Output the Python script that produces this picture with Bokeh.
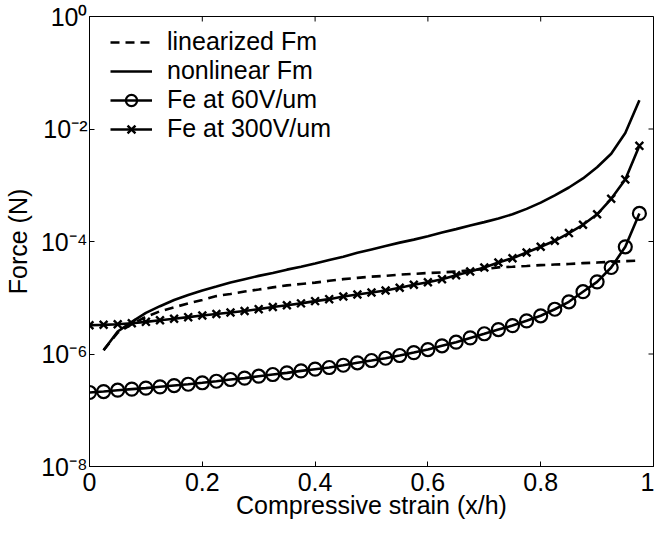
import math
from bokeh.plotting import figure
from bokeh.models import (FixedTicker, CustomJSTickFormatter, Legend, LegendItem, Range1d)
from bokeh.embed import file_html
from bokeh.resources import INLINE

# ---- data ----
strain = [0.0, 0.025, 0.05, 0.075, 0.1, 0.125, 0.15, 0.175, 0.2, 0.225,
          0.25, 0.275, 0.3, 0.325, 0.35, 0.375, 0.4, 0.425, 0.45, 0.475,
          0.5, 0.525, 0.55, 0.575, 0.6, 0.625, 0.65, 0.675, 0.7, 0.725,
          0.75, 0.775, 0.8, 0.825, 0.85, 0.875, 0.9, 0.925, 0.95, 0.975]

fm_strain = [0.025, 0.05, 0.075, 0.1, 0.125, 0.15, 0.175, 0.2, 0.225,
             0.25, 0.275, 0.3, 0.325, 0.35, 0.375, 0.4, 0.425, 0.45, 0.475,
             0.5, 0.525, 0.55, 0.575, 0.6, 0.625, 0.65, 0.675, 0.7, 0.725,
             0.75, 0.775, 0.8, 0.825, 0.85, 0.875, 0.9, 0.925, 0.95, 0.975]

fm_linearized = [1.17e-6, 2.40e-6, 3.39e-6, 4.57e-6, 5.75e-6, 6.76e-6, 7.94e-6, 9.12e-6,
                 1.07e-5, 1.17e-5, 1.29e-5, 1.40e-5, 1.53e-5, 1.66e-5, 1.76e-5, 1.86e-5,
                 2.00e-5, 2.14e-5, 2.26e-5, 2.37e-5, 2.45e-5, 2.57e-5, 2.66e-5, 2.75e-5,
                 2.82e-5, 2.92e-5, 3.09e-5, 3.24e-5, 3.47e-5, 3.55e-5, 3.67e-5, 3.80e-5,
                 3.89e-5, 3.98e-5, 4.12e-5, 4.22e-5, 4.37e-5, 4.47e-5, 4.57e-5]

fm_nonlinear = [1.17e-6, 2.51e-6, 3.72e-6, 5.37e-6, 7.08e-6, 9.12e-6, 1.12e-5, 1.35e-5,
                1.58e-5, 1.86e-5, 2.14e-5, 2.45e-5, 2.75e-5, 3.16e-5, 3.55e-5, 4.07e-5,
                4.68e-5, 5.37e-5, 6.31e-5, 7.24e-5, 8.32e-5, 9.55e-5, 1.08e-4, 1.24e-4,
                1.45e-4, 1.66e-4, 1.92e-4, 2.21e-4, 2.57e-4, 3.05e-4, 3.80e-4, 4.90e-4,
                6.61e-4, 9.12e-4, 1.32e-3, 2.09e-3, 3.63e-3, 8.51e-3, 3.24e-2]

fe_60 = [2.07e-7, 2.15e-7, 2.27e-7, 2.37e-7, 2.47e-7, 2.61e-7, 2.75e-7, 2.90e-7,
         3.08e-7, 3.28e-7, 3.52e-7, 3.72e-7, 4.03e-7, 4.32e-7, 4.62e-7, 5.01e-7,
         5.37e-7, 5.75e-7, 6.31e-7, 6.98e-7, 7.66e-7, 8.41e-7, 9.40e-7, 1.06e-6,
         1.20e-6, 1.40e-6, 1.62e-6, 1.93e-6, 2.29e-6, 2.72e-6, 3.20e-6, 3.89e-6,
         4.78e-6, 6.25e-6, 8.47e-6, 1.28e-5, 1.92e-5, 3.45e-5, 8.05e-5, 3.15e-4]

fe_300 = [3.25e-6, 3.30e-6, 3.39e-6, 3.53e-6, 3.73e-6, 3.98e-6, 4.22e-6, 4.52e-6,
          4.84e-6, 5.13e-6, 5.47e-6, 5.82e-6, 6.27e-6, 6.84e-6, 7.38e-6, 7.94e-6,
          8.71e-6, 9.44e-6, 1.05e-5, 1.14e-5, 1.24e-5, 1.35e-5, 1.51e-5, 1.70e-5,
          1.89e-5, 2.14e-5, 2.51e-5, 2.93e-5, 3.45e-5, 4.24e-5, 5.05e-5, 6.37e-5,
          8.05e-5, 1.03e-4, 1.41e-4, 1.98e-4, 3.05e-4, 5.75e-4, 1.27e-3, 5.02e-3]

x_ticks = [0, 0.2, 0.4, 0.6, 0.8, 1.0]
y_ticks = [1e-8, 1e-6, 1e-4, 1e-2, 1e0]

FONT = "Liberation Sans"
FS = "25px"

p = figure(width=654, height=525, x_range=Range1d(0, 1), y_range=Range1d(1e-8, 1),
           y_axis_type="log", output_backend="svg", toolbar_location=None,
           min_border_left=83, min_border_top=16, min_border_right=1, min_border_bottom=59)
p.background_fill_color = "white"
p.border_fill_color = "white"
p.outline_line_color = "black"
p.outline_line_width = 1
p.xgrid.visible = False
p.ygrid.visible = False

sup_formatter = CustomJSTickFormatter(code="""
const e = Math.round(Math.log10(tick));
const m = {"-": "\u207b", "0": "\u2070", "1": "\u00b9", "2": "\u00b2", "3": "\u00b3",
           "4": "\u2074", "5": "\u2075", "6": "\u2076", "7": "\u2077", "8": "\u2078", "9": "\u2079"};
return "10" + String(e).split("").map(c => m[c]).join("");
""")

xa = p.xaxis[0]
xa.ticker = FixedTicker(ticks=x_ticks)
xa.axis_label = "Compressive strain (x/h)"
ya = p.yaxis[0]
ya.ticker = FixedTicker(ticks=y_ticks)
ya.formatter = sup_formatter
ya.axis_label = "Force (N)"

for ax in (xa, ya):
    ax.major_tick_in = 5
    ax.major_tick_out = 0
    ax.minor_tick_in = 0
    ax.minor_tick_out = 0
    ax.axis_line_color = "black"
    ax.major_tick_line_color = "black"
    ax.major_label_text_font = FONT
    ax.major_label_text_font_size = FS
    ax.major_label_text_color = "black"
    ax.axis_label_text_font = FONT
    ax.axis_label_text_font_size = FS
    ax.axis_label_text_font_style = "normal"
    ax.axis_label_text_color = "black"

xa.major_label_standoff = 6
xa.axis_label_standoff = -3
ya.major_label_standoff = 2
ya.axis_label_standoff = 6

# inward tick marks on the top and right edges of the box (at the axis tick values)
p.ray(x=x_ticks, y=[y_ticks[-1]] * len(x_ticks), length=5, length_units="screen",
      angle=-math.pi / 2, line_color="black", line_width=1)
p.ray(x=[x_ticks[-1]] * len(y_ticks), y=y_ticks, length=5, length_units="screen",
      angle=math.pi, line_color="black", line_width=1)

LW = 2.6
r_lin = p.line(fm_strain, fm_linearized, line_color="black", line_width=LW, line_dash="9 6")
r_non = p.line(fm_strain, fm_nonlinear, line_color="black", line_width=LW)
r60_l = p.line(strain, fe_60, line_color="black", line_width=LW)
r60_m = p.scatter(strain, fe_60, marker="circle", size=13, line_color="black",
                  line_width=2.2, fill_color=None)
r300_l = p.line(strain, fe_300, line_color="black", line_width=LW)
r300_m = p.scatter(strain, fe_300, marker="x", size=11, line_color="black", line_width=2.4)

legend = Legend(items=[
    LegendItem(label="linearized Fm", renderers=[r_lin]),
    LegendItem(label="nonlinear Fm", renderers=[r_non]),
    LegendItem(label="Fe at 60V/um", renderers=[r60_l, r60_m]),
    LegendItem(label="Fe at 300V/um", renderers=[r300_l, r300_m]),
], location=(21, 323), padding=0, margin=0, spacing=0, border_line_color=None,
    background_fill_alpha=0, glyph_width=42, glyph_height=28, label_height=28,
    label_standoff=15, label_text_font=FONT, label_text_font_size=FS,
    label_text_color="black")
p.add_layout(legend)

open("out.html", "w").write(file_html(p, INLINE))
